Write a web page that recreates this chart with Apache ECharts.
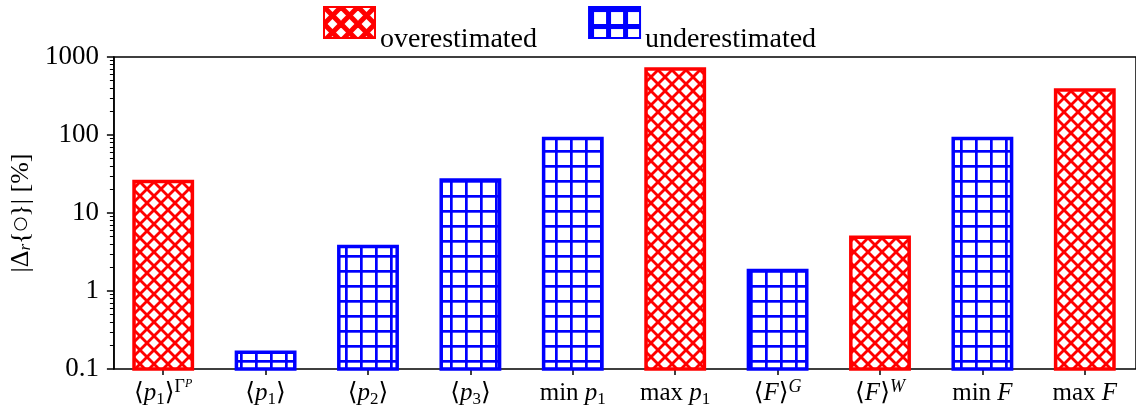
<!DOCTYPE html>
<html><head><meta charset="utf-8">
<script src="https://cdn.jsdelivr.net/npm/echarts@6/dist/echarts.min.js"></script>
<style>html,body{margin:0;padding:0;background:#fff}#c{width:1136px;height:418px}</style>
</head><body><div id="c"></div>
<script>
// ---- data ----
const categories = [
  '⟨{it|p}{sub|1}⟩{sup|Γ}{ssub|P}',
  '⟨{it|p}{sub|1}⟩',
  '⟨{it|p}{sub|2}⟩',
  '⟨{it|p}{sub|3}⟩',
  'min {it|p}{sub|1}',
  'max {it|p}{sub|1}',
  '⟨{it|F}⟩{sup2|G}',
  '⟨{it|F}⟩{sup2|W}',
  'min {it|F}',
  'max {it|F}'
];
const overValues  = [25.3, null, null, null, null, 700, null, 4.9, null, 377];
const underValues = [null, 0.164, 3.72, 26.5, 90.5, null, 1.83, null, 90.5, null];
const yTicks = [0.1, 1, 10, 100, 1000];
const seriesNames = ['overestimated', 'underestimated'];

// ---- patterns ----
function hatchX(color, s, lw) {
  const c = document.createElement('canvas'); c.width = s; c.height = s;
  const g = c.getContext('2d');
  g.fillStyle = '#fff'; g.fillRect(0, 0, s, s);
  g.strokeStyle = color; g.lineWidth = lw;
  for (let k = -1; k <= 1; k++) {
    g.beginPath(); g.moveTo(0, k * s); g.lineTo(s, k * s + s); g.stroke();
    g.beginPath(); g.moveTo(0, s + k * s); g.lineTo(s, k * s); g.stroke();
  }
  return { image: c, repeat: 'repeat' };
}
function hatchGrid(color, s, lw) {
  const c = document.createElement('canvas'); c.width = s; c.height = s;
  const g = c.getContext('2d');
  g.fillStyle = '#fff'; g.fillRect(0, 0, s, s);
  g.fillStyle = color;
  g.fillRect(0, 0, s, lw); g.fillRect(0, 0, lw, s);
  return { image: c, repeat: 'repeat' };
}
const RED = '#ff0000', BLUE = '#0000ff';
const redPat = hatchX(RED, 14, 2.8);
const bluePat = hatchGrid(BLUE, 15, 2.7);
const redLeg = hatchX(RED, 17, 5);
const blueLeg = hatchGrid(BLUE, 17, 5);

const yMin = yTicks[0], yMax = yTicks[yTicks.length - 1];
const SERIF = '"Liberation Serif","DejaVu Serif",serif';

function toData(arr) { return arr.map((v, i) => [i, v]).filter(d => d[1] != null); }
function makeRender(pat, col) {
  return function (params, api) {
    const i = api.value(0), v = api.value(1);
    const top = api.coord([i, v]);
    const bot = api.coord([i, yMin]);
    const w = api.size([1, 0])[0] * 0.57;
    return {
      type: 'rect',
      shape: { x: top[0] - w / 2, y: top[1], width: w, height: bot[1] - top[1] },
      style: { fill: pat, stroke: col, lineWidth: 3.5 }
    };
  };
}

const labelRich = {
  it: { fontStyle: 'italic', fontSize: 25, fontFamily: SERIF, color: '#000', lineHeight: 30 },
  sub: { fontSize: 17, fontFamily: SERIF, color: '#000', verticalAlign: 'bottom', lineHeight: 16 },
  sup: { fontSize: 18, fontFamily: SERIF, color: '#000', verticalAlign: 'top', lineHeight: 16 },
  sup2: { fontSize: 18, fontStyle: 'italic', fontFamily: SERIF, color: '#000', verticalAlign: 'top', lineHeight: 16 },
  ssub: { fontSize: 12, fontStyle: 'italic', fontFamily: SERIF, color: '#000', verticalAlign: 'top', lineHeight: 22 }
};

const chart = echarts.init(document.getElementById('c'), null, { renderer: 'canvas' });
chart.setOption({
  animation: false,
  backgroundColor: '#fff',
  legend: {
    left: 323, top: 6, padding: 0,
    itemWidth: 51, itemHeight: 31, itemGap: 51,
    icon: 'rect',
    formatter: '{t|{name}}',
    textStyle: { rich: { t: { fontSize: 28, fontFamily: SERIF, color: '#000', padding: [34, 0, 0, 0] } } },
    data: [
      { name: seriesNames[0], itemStyle: { color: redLeg, borderColor: RED, borderWidth: 2 } },
      { name: seriesNames[1], itemStyle: { color: blueLeg, borderColor: BLUE, borderWidth: 2 } }
    ]
  },
  grid: [
    { left: 112, top: 57, width: 1026, height: 312 },
    { left: 107, top: 57, width: 1036, height: 312, show: true, borderColor: '#000', borderWidth: 1.5, backgroundColor: 'transparent' }
  ],
  xAxis: [
    {
      type: 'category', gridIndex: 0, data: categories,
      axisLine: { show: false },
      axisTick: { show: true, alignWithLabel: true, length: 6, lineStyle: { color: '#000', width: 1.5 } },
      axisLabel: { interval: 0, margin: 9, fontSize: 25, fontFamily: SERIF, color: '#000', lineHeight: 30, rich: labelRich },
      splitLine: { show: false }
    },
    { type: 'value', gridIndex: 1, show: false, min: 0, max: 1 }
  ],
  yAxis: [
    { type: 'log', gridIndex: 0, logBase: 10, min: yMin, max: yMax, show: false },
    {
      type: 'log', gridIndex: 1, logBase: 10, min: yMin, max: yMax,
      axisLine: { show: true, lineStyle: { color: '#000', width: 1.5 } },
      axisTick: { show: true, length: 7, lineStyle: { color: '#000', width: 1.5 } },
      minorTick: { show: true, splitNumber: 9, length: 4, lineStyle: { color: '#000', width: 1 } },
      splitLine: { show: false },
      axisLabel: { fontSize: 27, fontFamily: SERIF, color: '#000', margin: 15,
        formatter: v => String(+v.toPrecision(6)) },
      name: '|Δ{s|r}{{c|○}}| [%]',
      nameLocation: 'middle', nameRotate: 90, nameGap: 62,
      nameTextStyle: { fontSize: 26, fontFamily: SERIF, color: '#000',
        rich: {
          s: { fontSize: 17, fontStyle: 'italic', fontFamily: SERIF, color: '#000', verticalAlign: 'bottom', lineHeight: 16 },
          c: { fontSize: 17, fontFamily: '"DejaVu Sans",sans-serif', color: '#000' }
        } }
    }
  ],
  series: [
    { name: seriesNames[0], type: 'custom', xAxisIndex: 0, yAxisIndex: 0, itemStyle: { color: RED },
      renderItem: makeRender(redPat, RED), data: toData(overValues), clip: false },
    { name: seriesNames[1], type: 'custom', xAxisIndex: 0, yAxisIndex: 0, itemStyle: { color: BLUE },
      renderItem: makeRender(bluePat, BLUE), data: toData(underValues), clip: false }
  ]
});
</script></body></html>
